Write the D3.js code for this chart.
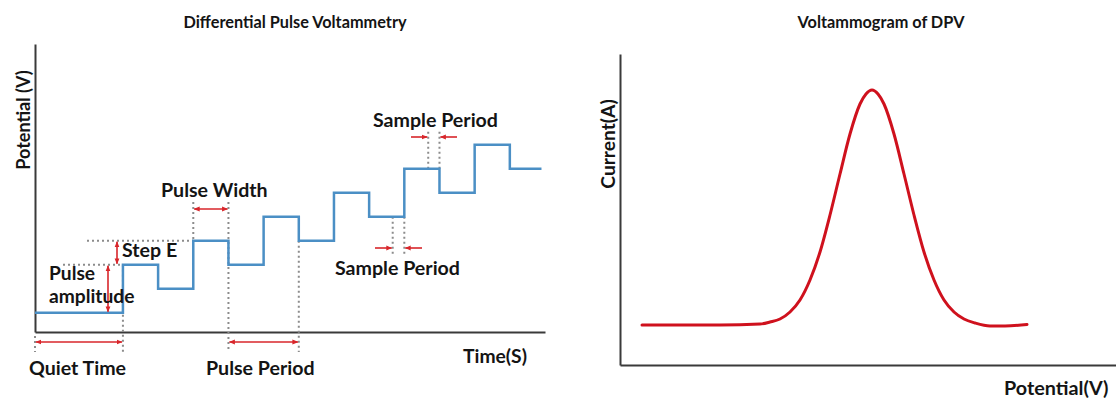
<!DOCTYPE html>
<html>
<head>
<meta charset="utf-8">
<script src="https://cdn.jsdelivr.net/npm/d3@7"></script>
<style>
  html, body { margin: 0; padding: 0; background: #fff; }
  svg { display: block; }
  text { font-family: Lato, "Open Sans", sans-serif; font-weight: 700; fill: #141414; }
</style>
</head>
<body>
<svg id="chart" width="1116" height="399"></svg>
<script>
// ---- Excitation waveform (left panel) ----
// times in s, potentials in mV; each value holds until the next time
const stepTimes      = [0, 0.25, 0.35, 0.45, 0.55, 0.65, 0.75, 0.85, 0.95, 1.05, 1.15, 1.25, 1.35];
const stepPotentials = [0,   50,   25,   75,   50,  100,   75,  125,  100,  150,  125,  175,  150];
const waveEndTime = 1.44;

// timing annotations (s)
const quietTime   = [0, 0.25];
const pulseWidth  = [0.45, 0.55];
const pulsePeriod = [0.55, 0.75];
const sampleLow   = [1.017, 1.05];   // sampled before the pulse
const sampleHigh  = [1.118, 1.15];   // sampled at the end of the pulse
const stepELevels = [50, 75];        // mV
const pulseAmpLevels = [0, 50];      // mV

// ---- Resulting voltammogram (right panel) ----
const dpvPotential = [22, 60, 100, 140, 150, 160, 170, 180, 190, 200, 210, 220, 230, 240, 246, 252,
                      258, 264, 274, 284, 294, 304, 314, 324, 334, 344, 355, 370, 385, 407];   // mV
const dpvCurrent   = [40, 40, 40, 41, 43, 46, 53, 65, 85, 113, 150, 191, 231, 261, 271, 275,
                      271, 261, 231, 191, 150, 113, 85, 65, 53, 46, 42, 39, 39, 40.5];         // nA

const svg = d3.select("#chart");

const blue = "#4b8fc5", red = "#d8262b", crimson = "#cf111d", dotGrey = "#8c8c8c", axisCol = "#3a3a3a";

const defs = svg.append("defs");
defs.append("marker")
  .attr("id", "head").attr("viewBox", "0 0 10 10")
  .attr("refX", 9).attr("refY", 5)
  .attr("markerWidth", 6).attr("markerHeight", 6)
  .attr("markerUnits", "userSpaceOnUse")
  .attr("orient", "auto-start-reverse")
  .append("path").attr("d", "M0,1 L10,5 L0,9 Z").attr("fill", red);

// ================= Left panel =================
const xL = d3.scaleLinear([0, 1.45], [35, 545]);
const yL = d3.scaleLinear([-20, 280], [332, 44]);

const left = svg.append("g");

left.append("g").attr("transform", `translate(0,${yL.range()[0]})`)
  .call(d3.axisBottom(xL).tickValues([]).tickSizeOuter(0))
  .call(g => g.select(".domain").attr("stroke", axisCol).attr("stroke-width", 2));
left.append("g").attr("transform", `translate(${xL.range()[0]},0)`)
  .call(d3.axisLeft(yL).tickValues([]).tickSizeOuter(0))
  .call(g => g.select(".domain").attr("stroke", axisCol).attr("stroke-width", 2));

const dotted = (x1, y1, x2, y2) => left.append("line")
  .attr("x1", x1).attr("y1", y1).attr("x2", x2).attr("y2", y2)
  .attr("stroke", dotGrey).attr("stroke-width", 2).attr("stroke-dasharray", "2 3");

const arrow = (x1, y1, x2, y2, both) => left.append("line")
  .attr("x1", x1).attr("y1", y1).attr("x2", x2).attr("y2", y2)
  .attr("stroke", red).attr("stroke-width", 1.6)
  .attr("marker-end", "url(#head)")
  .attr("marker-start", both ? "url(#head)" : null);

// guide lines
const belowAxis = 352;
dotted(xL(quietTime[0]), yL.range()[0] + 4, xL(quietTime[0]), belowAxis);
dotted(xL(quietTime[1]), yL(stepPotentials[1]), xL(quietTime[1]), belowAxis);
dotted(xL(pulseWidth[0]), 202, xL(pulseWidth[0]), yL(75));
dotted(xL(pulseWidth[1]), 202, xL(pulseWidth[1]), belowAxis);
dotted(xL(pulsePeriod[1]), yL(75), xL(pulsePeriod[1]), belowAxis);
dotted(87, yL(stepELevels[1]), xL(pulseWidth[0]), yL(stepELevels[1]));
dotted(63, yL(stepELevels[0]), xL(quietTime[1]), yL(stepELevels[0]));
sampleLow.forEach(t => dotted(xL(t), yL(100), xL(t), 254));
sampleHigh.forEach(t => dotted(xL(t), yL(150), xL(t), 131));

// staircase + pulse waveform
const wave = stepTimes.map((t, i) => [t, stepPotentials[i]]);
wave.push([waveEndTime, stepPotentials[stepPotentials.length - 1]]);
left.append("path")
  .datum(wave)
  .attr("fill", "none").attr("stroke", blue).attr("stroke-width", 2.5)
  .attr("d", d3.line().x(d => xL(d[0])).y(d => yL(d[1])).curve(d3.curveStepAfter));

// red dimension arrows
arrow(xL(quietTime[0]) + 1, 342, xL(quietTime[1]) - 1, 342, true);
arrow(xL(pulsePeriod[0]) + 1, 342, xL(pulsePeriod[1]) - 1, 342, true);
arrow(xL(pulseWidth[0]) + 1, 209, xL(pulseWidth[1]) - 1, 209, true);
arrow(108, yL(pulseAmpLevels[1]) + 1, 108, yL(pulseAmpLevels[0]) - 1, true);
arrow(117, yL(stepELevels[1]) + 1, 117, yL(stepELevels[0]) - 1, true);
arrow(375, 248, xL(sampleLow[0]) - 1, 248, false);
arrow(422, 248, xL(sampleLow[1]) + 1, 248, false);
arrow(411, 137, xL(sampleHigh[0]) - 1, 137, false);
arrow(457, 137, xL(sampleHigh[1]) + 1, 137, false);

// labels
const label = (g, txt, x, y, size, anchor, rot) => {
  const t = g.append("text").text(txt).attr("font-size", size)
    .attr("text-anchor", anchor || "start");
  if (rot) t.attr("transform", `translate(${x},${y}) rotate(${rot})`);
  else t.attr("x", x).attr("y", y);
  return t;
};
label(left, "Differential Pulse Voltammetry", 295, 28, 16.3, "middle");
label(left, "Potential (V)", 30, 120, 18, "middle", -90);
label(left, "Time(S)", 463, 363, 19.3);
label(left, "Quiet Time", 29, 375, 19.6);
label(left, "Pulse Period", 206, 375, 19.6);
label(left, "Pulse Width", 161, 197, 19.6);
label(left, "Step E", 122, 257, 19.6);
label(left, "Sample Period", 373, 127, 19.6);
label(left, "Sample Period", 335, 275, 19.6);

// two-line "Pulse amplitude" label
const ampLabel = left.append("text").attr("font-size", 19.2);
ampLabel.append("tspan").attr("x", 49).attr("y", 279.5).text("Pulse");
ampLabel.append("tspan").attr("x", 49).attr("dy", 23.5).text("amplitude");

// ================= Right panel =================
const xR = d3.scaleLinear([0, 496], [620, 1116]);
const yR = d3.scaleLinear([0, 311], [365, 54]);

const right = svg.append("g");
right.append("g").attr("transform", `translate(0,${yR.range()[0]})`)
  .call(d3.axisBottom(xR).tickValues([]).tickSizeOuter(0))
  .call(g => g.select(".domain").attr("stroke", axisCol).attr("stroke-width", 2));
right.append("g").attr("transform", `translate(${xR.range()[0]},0)`)
  .call(d3.axisLeft(yR).tickValues([]).tickSizeOuter(0))
  .call(g => g.select(".domain").attr("stroke", axisCol).attr("stroke-width", 2));

right.append("path")
  .datum(dpvPotential.map((v, i) => [v, dpvCurrent[i]]))
  .attr("fill", "none").attr("stroke", crimson).attr("stroke-width", 3)
  .attr("stroke-linecap", "round")
  .attr("d", d3.line().x(d => xR(d[0])).y(d => yR(d[1])).curve(d3.curveMonotoneX));

label(right, "Voltammogram of DPV", 881, 28, 16.3, "middle");
label(right, "Current(A)", 615, 144, 19.2, "middle", -90);
label(right, "Potential(V)", 1004, 395, 19.8);
</script>
</body>
</html>
